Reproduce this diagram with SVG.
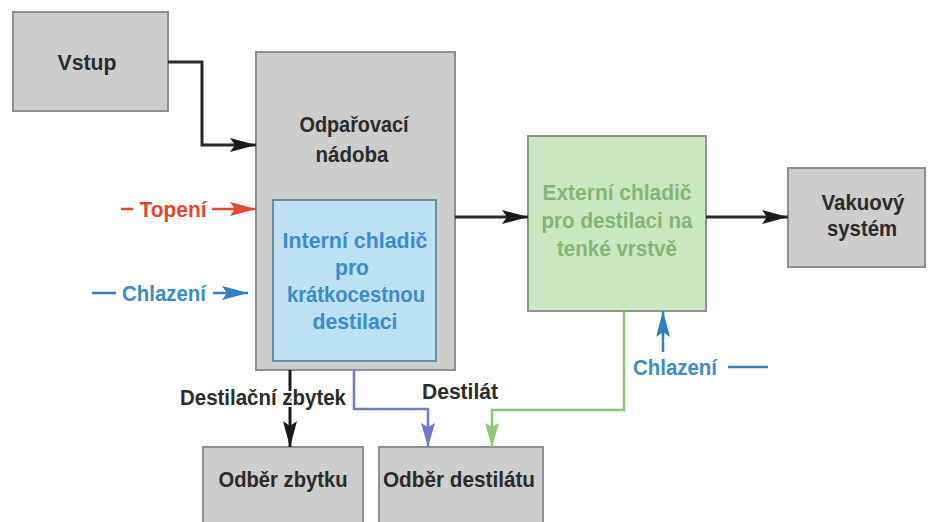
<svg xmlns="http://www.w3.org/2000/svg" width="931" height="522" viewBox="0 0 931 522">
<defs>
<style>
.gray{fill:#cdcdcd;stroke:#8f8f8f;stroke-width:2}
.blue{fill:#bde0f2;stroke:#6d8c9c;stroke-width:2}
.green{fill:#cbe7c2;stroke:#8c9886;stroke-width:2}
text{font-family:"Liberation Sans",Arial,sans-serif;font-weight:bold;font-size:22px;text-anchor:middle}
.tk{fill:#2b2b2b}
.tb{fill:#3a8ccc}
.tg{fill:#86b472}
.tr{fill:#e8452f}
.halo{paint-order:stroke;stroke:#fff;stroke-width:4}
.ln{fill:none;stroke-linejoin:miter}
</style>
<marker id="ak" markerUnits="userSpaceOnUse" markerWidth="26" markerHeight="14" refX="26" refY="7" orient="auto"><path d="M0,0 L26,7 L0,14 L5,7 z" fill="#1a1a1a"/></marker>
<marker id="ar" markerUnits="userSpaceOnUse" markerWidth="26" markerHeight="14" refX="26" refY="7" orient="auto"><path d="M0,0 L26,7 L0,14 L5,7 z" fill="#e8452f"/></marker>
<marker id="ab" markerUnits="userSpaceOnUse" markerWidth="26" markerHeight="14" refX="26" refY="7" orient="auto"><path d="M0,0 L26,7 L0,14 L5,7 z" fill="#2f7fc4"/></marker>
<marker id="ap" markerUnits="userSpaceOnUse" markerWidth="24" markerHeight="14" refX="24" refY="7" orient="auto"><path d="M0,0 L24,7 L0,14 L4,7 z" fill="#7479c6"/></marker>
<marker id="ag" markerUnits="userSpaceOnUse" markerWidth="24" markerHeight="14" refX="24" refY="7" orient="auto"><path d="M0,0 L24,7 L0,14 L4,7 z" fill="#8cc870"/></marker>
</defs>
<rect width="931" height="522" fill="#ffffff"/>

<g id="vstup">
<rect class="gray" x="13" y="12" width="155" height="99"/>
<text class="tk" x="87" y="70" textLength="59" lengthAdjust="spacingAndGlyphs">Vstup</text>
</g>

<g id="odparovaci-nadoba">
<rect class="gray" x="256" y="52" width="199" height="318"/>
<text class="tk" x="354" y="132" textLength="109" lengthAdjust="spacingAndGlyphs">Odpařovací</text>
<text class="tk" x="352" y="162" textLength="73" lengthAdjust="spacingAndGlyphs">nádoba</text>
</g>

<g id="interni-chladic">
<rect class="blue" x="273" y="200" width="163" height="161"/>
<text class="tb" x="355" y="248" textLength="145" lengthAdjust="spacingAndGlyphs">Interní chladič</text>
<text class="tb" x="352" y="275" textLength="34" lengthAdjust="spacingAndGlyphs">pro</text>
<text class="tb" x="356" y="302" textLength="138" lengthAdjust="spacingAndGlyphs">krátkocestnou</text>
<text class="tb" x="355" y="329" textLength="85" lengthAdjust="spacingAndGlyphs">destilaci</text>
</g>

<g id="externi-chladic">
<rect class="green" x="528" y="136" width="178" height="175"/>
<text class="tg" x="617" y="200" textLength="149" lengthAdjust="spacingAndGlyphs">Externí chladič</text>
<text class="tg" x="617" y="228" textLength="151" lengthAdjust="spacingAndGlyphs">pro destilaci na</text>
<text class="tg" x="617" y="256" textLength="120" lengthAdjust="spacingAndGlyphs">tenké vrstvě</text>
</g>

<g id="vakuovy-system">
<rect class="gray" x="788" y="168" width="137" height="99"/>
<text class="tk" x="863" y="210" textLength="83" lengthAdjust="spacingAndGlyphs">Vakuový</text>
<text class="tk" x="862" y="236" textLength="70" lengthAdjust="spacingAndGlyphs">systém</text>
</g>

<g id="odber-zbytku">
<rect class="gray" x="203" y="447" width="160" height="80"/>
<text class="tk" x="283" y="487" textLength="129" lengthAdjust="spacingAndGlyphs">Odběr zbytku</text>
</g>

<g id="odber-destilatu">
<rect class="gray" x="379" y="447" width="164" height="80"/>
<text class="tk" x="459" y="487" textLength="152" lengthAdjust="spacingAndGlyphs">Odběr destilátu</text>
</g>

<g id="connectors">
<polyline class="ln" points="168,62 202,62 202,145 256,145" stroke="#2a2a2a" stroke-width="3" marker-end="url(#ak)"/>
<line x1="121" y1="209" x2="133" y2="209" stroke="#e8452f" stroke-width="2.5"/>
<text class="tr" x="173" y="217" textLength="67" lengthAdjust="spacingAndGlyphs">Topení</text>
<line x1="212" y1="209" x2="256" y2="209" stroke="#e8452f" stroke-width="2.5" marker-end="url(#ar)"/>
<line x1="92" y1="293" x2="116" y2="293" stroke="#2f7fc4" stroke-width="2.5"/>
<text class="tb" x="164" y="301" textLength="84" lengthAdjust="spacingAndGlyphs">Chlazení</text>
<line x1="213" y1="293" x2="248" y2="293" stroke="#2f7fc4" stroke-width="2.5" marker-end="url(#ab)"/>
<line x1="455" y1="217" x2="528" y2="217" stroke="#2a2a2a" stroke-width="3" marker-end="url(#ak)"/>
<line x1="706" y1="217" x2="788" y2="217" stroke="#2a2a2a" stroke-width="3" marker-end="url(#ak)"/>
<line x1="663" y1="352" x2="663" y2="311" stroke="#2f7fc4" stroke-width="2.5" marker-end="url(#ab)"/>
<text class="tb" x="675" y="375" textLength="84" lengthAdjust="spacingAndGlyphs">Chlazení</text>
<line x1="728" y1="367" x2="768" y2="367" stroke="#2f7fc4" stroke-width="2.5"/>
<polyline class="ln" points="624,311 624,410 492,410 492,447" stroke="#8cc870" stroke-width="2.5" marker-end="url(#ag)"/>
<polyline class="ln" points="354,370 354,409 428,409 428,447" stroke="#7479c6" stroke-width="2.5" marker-end="url(#ap)"/>
<line x1="290" y1="370" x2="290" y2="447" stroke="#1a1a1a" stroke-width="3" marker-end="url(#ak)"/>
<text class="tk halo" x="263" y="405" textLength="166" lengthAdjust="spacingAndGlyphs">Destilační zbytek</text>
<text class="tk" x="460" y="399" textLength="76" lengthAdjust="spacingAndGlyphs">Destilát</text>
</g>
</svg>
